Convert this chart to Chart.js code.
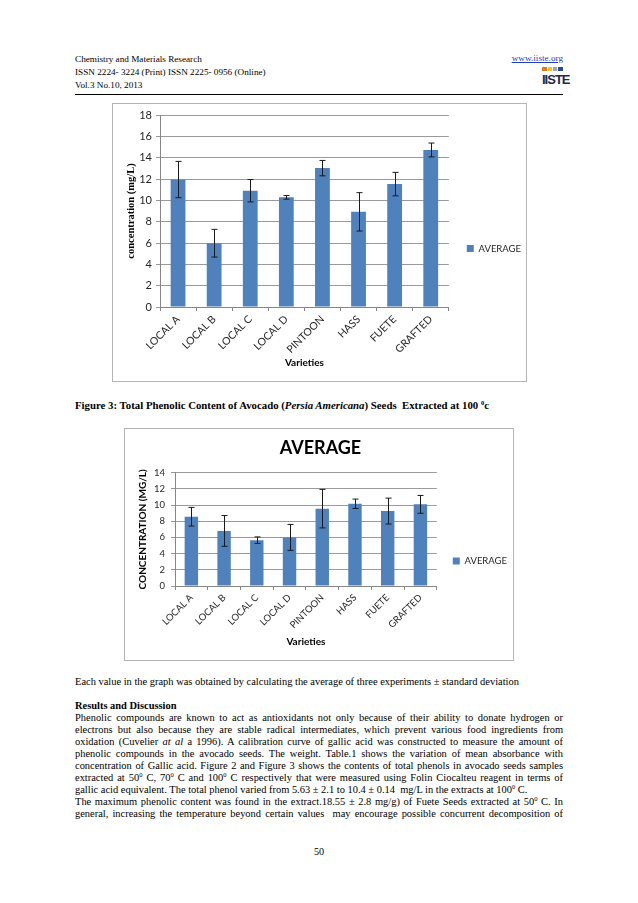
<!DOCTYPE html>
<html>
<head>
<meta charset="utf-8">
<script src="https://cdn.jsdelivr.net/npm/chart.js@4.4.0/dist/chart.umd.min.js"></script>
<style>
    html, body { margin: 0; padding: 0; background: #fff; }
    #page { position: relative; width: 638px; height: 903px; overflow: hidden;
            font-family: "Liberation Serif", "Times New Roman", serif; color: #000; }
    .abs { position: absolute; white-space: nowrap; }
    .hdr { left: 75px; font-size: 9.2px; line-height: 10px; }
    .frame { position: absolute; box-sizing: border-box; border: 1px solid #b4b4b4; }
    canvas { position: absolute; }
    .ln { position: absolute; left: 75px; width: 488px; font-size: 10.45px; line-height: 12px;
          text-align: justify; text-align-last: justify; }
    .ln.plain { text-align: left; text-align-last: left; white-space: nowrap; }
    sup { font-size: 6.5px; line-height: 0; vertical-align: 4px; }
    .logo span { position: absolute; height: 4px; }
</style>
</head>
<body>
<div id="page">
    <!-- journal header -->
    <div class="abs hdr" style="top:54px">Chemistry and Materials Research</div>
    <div class="abs hdr" style="top:67px">ISSN 2224- 3224 (Print) ISSN 2225- 0956 (Online)</div>
    <div class="abs hdr" style="top:80px">Vol.3 No.10, 2013</div>
    <div class="abs" style="top:53px; right:75px; font-size:9.2px; color:#1f3fbf; text-decoration:underline;">www.iiste.org</div>
    <div class="abs logo" style="left:542px; top:67px; width:22px; height:22px;">
        <span style="left:0; top:0; width:5px; background:#e07a1f;"></span>
        <span style="left:6px; top:0; width:4px; background:#f2c12e;"></span>
        <span style="left:11px; top:0; width:4px; background:#9aa5b8;"></span>
        <span style="left:16px; top:0; width:5px; background:#2c4a8c;"></span>
        <div style="position:absolute; left:0; top:5px; font:bold 13px 'Liberation Sans', sans-serif; letter-spacing:-1px; color:#1c2b4a;">IISTE</div>
    </div>
    <div class="abs" style="left:75px; top:94px; width:488px; border-top:1px solid #000;"></div>

    <!-- figure 3 -->
    <div class="frame" style="left:112px; top:103px; width:415px; height:279px;"></div>
    <canvas id="fig3-chart" width="419" height="279" style="left:112px; top:103px;"></canvas>

    <div class="abs" style="left:75px; top:399px; font-size:10.8px; font-weight:bold;">Figure 3: Total Phenolic Content of Avocado (<i>Persia Americana</i>) Seeds&nbsp; Extracted at 100 <sup>0</sup>c</div>

    <!-- average chart -->
    <div class="frame" style="left:124px; top:428px; width:390px; height:233px;"></div>
    <canvas id="avg-chart" width="393" height="233" style="left:124px; top:428px;"></canvas>

    <!-- text body -->
    <div class="ln plain" style="top:676px">Each value in the graph was obtained by calculating the average of three experiments ± standard deviation</div>
    <div class="ln plain" style="top:700px; font-weight:bold;">Results and Discussion</div>
    <div class="ln" style="top:712px">Phenolic compounds are known to act as antioxidants not only because of their ability to donate hydrogen or</div>
    <div class="ln" style="top:724px">electrons but also because they are stable radical intermediates, which prevent various food ingredients from</div>
    <div class="ln" style="top:736px">oxidation (Cuvelier <i>at al</i> a 1996). A calibration curve of gallic acid was constructed to measure the amount of</div>
    <div class="ln" style="top:748px">phenolic compounds in the avocado seeds. The weight. Table.1 shows the variation of mean absorbance with</div>
    <div class="ln" style="top:760px">concentration of Gallic acid. Figure 2 and Figure 3 shows the contents of total phenols in avocado seeds samples</div>
    <div class="ln" style="top:772px">extracted at 50<sup>0</sup> C, 70<sup>0</sup> C and 100<sup>0</sup> C respectively that were measured using Folin Ciocalteu reagent in terms of</div>
    <div class="ln plain" style="top:784px">gallic acid equivalent. The total phenol varied from 5.63 ± 2.1 to 10.4 ± 0.14&nbsp; mg/L in the extracts at 100<sup>0</sup> C.</div>
    <div class="ln" style="top:796px">The maximum phenolic content was found in the extract.18.55 ± 2.8 mg/g) of Fuete Seeds extracted at 50<sup>0</sup> C. In</div>
    <div class="ln" style="top:808px">general, increasing the temperature beyond certain values&nbsp; may encourage possible concurrent decomposition of</div>

    <div class="abs" style="left:0; width:638px; text-align:center; top:846px; font-size:10.2px;">50</div>
</div>

<script>
// --- Data ---
const varieties = ['LOCAL A', 'LOCAL B', 'LOCAL C', 'LOCAL D', 'PINTOON', 'HASS', 'FUETE', 'GRAFTED'];

// Figure 3 (extracted at 100 °C)
const fig3Average = [11.95, 5.98, 10.9, 10.28, 13.02, 8.92, 11.52, 14.72];
const fig3Error = [1.7, 1.3, 1.05, 0.17, 0.72, 1.8, 1.1, 0.65];
const fig3YTicks = [0, 2, 4, 6, 8, 10, 12, 14, 16, 18];

// "AVERAGE" chart
const avgValues = [8.55, 6.8, 5.66, 6.0, 9.55, 10.15, 9.25, 10.08];
const avgError = [1.15, 1.9, 0.4, 1.6, 2.38, 0.58, 1.6, 1.1];
const avgYTicks = [0, 2, 4, 6, 8, 10, 12, 14];

const seriesName = 'AVERAGE';
const barColor = '#4F81BD';
const textColor = '#262626';
const gridColor = '#9a9a9a';
const axisColor = '#868686';

Chart.defaults.font.family = 'Lato, "Open Sans", sans-serif';

// Draws ± error bars on top of every bar, using the chart's own y scale
const errorBars = {
    id: 'errorBars',
    afterDatasetsDraw(chart, args, opts) {
        const ctx = chart.ctx;
        const yScale = chart.scales.y;
        const values = chart.data.datasets[0].data;
        const meta = chart.getDatasetMeta(0);
        ctx.save();
        ctx.strokeStyle = '#1a1a1a';
        ctx.lineWidth = 1;
        meta.data.forEach((bar, i) => {
            const top = yScale.getPixelForValue(values[i] + opts.errors[i]);
            const bottom = yScale.getPixelForValue(values[i] - opts.errors[i]);
            const x = Math.round(bar.x) + 0.5;
            ctx.beginPath();
            ctx.moveTo(x, top); ctx.lineTo(x, bottom);
            ctx.moveTo(x - opts.cap, top); ctx.lineTo(x + opts.cap, top);
            ctx.moveTo(x - opts.cap, bottom); ctx.lineTo(x + opts.cap, bottom);
            ctx.stroke();
        });
        ctx.restore();
    }
};

/**
 * Builds one bar chart with error bars.
 */
function makeBarChart(canvasId, values, errors, yTicks, s) {
    return new Chart(document.getElementById(canvasId), {
        type: 'bar',
        data: {
            labels: varieties,
            datasets: [{
                label: seriesName,
                data: values,
                backgroundColor: barColor,
                borderWidth: 0,
                barPercentage: 0.41,
                categoryPercentage: 1
            }]
        },
        options: {
            responsive: false,
            animation: false,
            layout: { padding: { top: s.padTop, left: 0, right: 0, bottom: 0 } },
            plugins: {
                title: s.title,
                legend: {
                    position: 'right',
                    title: s.legendTitle,
                    labels: { boxWidth: 7, boxHeight: 7, padding: s.legendPad, color: textColor, font: { size: 9.5 } }
                },
                tooltip: { enabled: false },
                errorBars: { errors: errors, cap: 3 }
            },
            scales: {
                x: {
                    grid: { drawOnChartArea: false, tickLength: 4, color: axisColor },
                    border: { color: axisColor },
                    ticks: { autoSkip: false, minRotation: 45, maxRotation: 45, padding: 2, color: textColor, font: { size: s.xFont } },
                    title: { display: true, text: 'Varieties', color: '#000', font: { size: 10, weight: 'bold' }, padding: { top: 0, bottom: 13 } },
                    afterFit: (scale) => { scale.height = s.xHeight; }
                },
                y: {
                    min: yTicks[0],
                    max: yTicks[yTicks.length - 1],
                    ticks: { stepSize: yTicks[1] - yTicks[0], padding: s.yPad, color: textColor, font: { size: s.yFont } },
                    grid: { color: gridColor, tickLength: 4 },
                    border: { color: axisColor },
                    title: s.yTitle,
                    afterFit: (scale) => { scale.width = s.yWidth; }
                }
            }
        },
        plugins: [errorBars]
    });
}

makeBarChart('fig3-chart', fig3Average, fig3Error, fig3YTicks, {
    padTop: 12,
    title: { display: false },
    legendTitle: { display: false },
    legendPad: 18,
    xFont: 10.5,
    xHeight: 75,
    yFont: 11,
    yPad: 4,
    yWidth: 48,
    yTitle: {
        display: true, text: 'concentration (mg/L)', color: '#000',
        font: { family: '"Liberation Serif", serif', size: 10.5, weight: 'bold' },
        padding: { top: 13, bottom: 0 }
    }
});

makeBarChart('avg-chart', avgValues, avgError, avgYTicks, {
    padTop: 0,
    title: {
        display: true, text: 'AVERAGE', color: '#000',
        font: { size: 18, weight: 'bold' },
        padding: { top: 9, bottom: 14 }
    },
    legendTitle: { display: true, text: '', font: { size: 10 }, padding: { top: 0, bottom: 21 } },
    legendPad: 16,
    xFont: 9.5,
    xHeight: 75,
    yFont: 9.5,
    yPad: 6,
    yWidth: 51,
    yTitle: {
        display: true, text: 'CONCENTRATION (MG/L)', color: '#000',
        font: { size: 10, weight: 'bold' },
        padding: { top: 13, bottom: 0 }
    }
});
</script>
</body>
</html>
